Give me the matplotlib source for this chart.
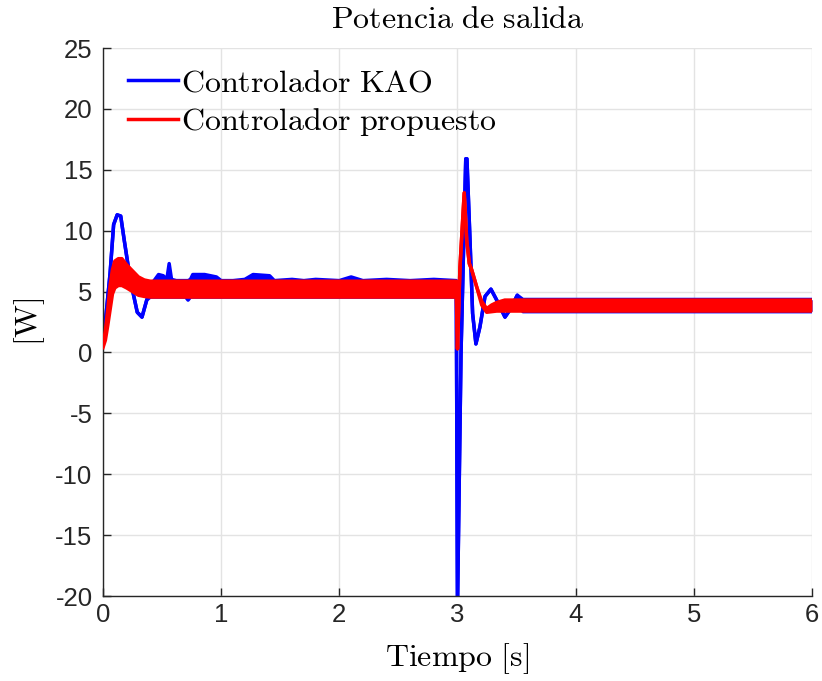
import matplotlib
matplotlib.use("Agg")
import matplotlib.pyplot as plt

plt.rcParams['mathtext.fontset'] = 'cm'
plt.rcParams['axes.unicode_minus'] = False

# ---- data ----
kao_t = [0.00, 0.03, 0.06, 0.09, 0.12, 0.15, 0.18, 0.21, 0.25, 0.29, 0.33, 0.37, 0.40,
         0.44, 0.47, 0.51, 0.54, 0.56, 0.58, 0.62, 0.70, 0.72, 0.74, 0.76, 0.86, 0.96,
         1.00, 1.10, 1.20, 1.27, 1.41, 1.45, 1.60, 1.70, 1.80, 2.00, 2.10, 2.20, 2.40,
         2.60, 2.80, 2.99, 3.00, 3.03, 3.07, 3.08, 3.106, 3.128, 3.156, 3.19, 3.233,
         3.283, 3.332, 3.402, 3.444, 3.506, 3.554, 3.60, 4.00, 5.00, 6.00]
kao_hi = [0.6, 3.5, 6.5, 10.5, 11.3, 11.2, 9.2, 7.3, 5.1, 3.3, 2.9, 4.3, 5.5,
          6.0, 6.4, 6.3, 6.0, 7.3, 6.0, 5.9, 5.9, 5.9, 6.0, 6.4, 6.4, 6.2,
          5.9, 5.9, 6.0, 6.4, 6.3, 5.9, 6.0, 5.9, 6.0, 5.9, 6.2, 5.9, 6.0,
          5.9, 6.0, 5.9, -21.0, 0.0, 15.9, 15.9, 9.2, 3.2, 0.7, 2.1, 4.6,
          5.2, 4.3, 2.9, 3.5, 4.7, 4.35, 4.35, 4.35, 4.35, 4.35]
kao_lo = [0.6, 3.5, 6.5, 10.5, 11.3, 11.2, 9.2, 7.3, 5.1, 3.3, 2.9, 4.3, 4.55,
          4.55, 4.55, 4.55, 4.55, 4.55, 4.55, 4.55, 4.55, 4.3, 4.55, 4.55, 4.55, 4.55,
          4.55, 4.55, 4.55, 4.55, 4.55, 4.55, 4.55, 4.55, 4.55, 4.55, 4.55, 4.55, 4.55,
          4.55, 4.55, 4.55, -21.0, 0.0, 15.9, 15.9, 9.2, 3.2, 0.7, 2.1, 4.6,
          5.2, 4.3, 2.9, 3.5, 4.7, 3.35, 3.35, 3.35, 3.35, 3.35]

prop_t = [0.00, 0.02, 0.04, 0.06, 0.08, 0.10, 0.13, 0.16, 0.20, 0.25, 0.30, 0.35,
          0.40, 0.50, 2.99, 3.00, 3.021, 3.057, 3.078, 3.10, 3.12, 3.162, 3.205,
          3.247, 3.29, 3.332, 3.40, 6.00]
prop_hi = [0.6, 1.8, 3.5, 5.5, 6.8, 7.5, 7.7, 7.7, 7.2, 6.7, 6.2, 5.95,
           5.85, 5.85, 5.85, 0.3, 7.0, 13.1, 9.2, 7.3, 6.8, 5.4, 4.2,
           3.6, 3.9, 4.1, 4.3, 4.3]
prop_lo = [0.4, 1.0, 2.2, 3.5, 4.8, 5.3, 5.5, 5.5, 5.3, 5.0, 4.7, 4.6,
           4.55, 4.55, 4.55, 0.3, 7.0, 13.1, 9.2, 7.3, 6.8, 5.4, 3.9,
           3.3, 3.35, 3.4, 3.4, 3.4]

x_ticks = [0, 1, 2, 3, 4, 5, 6]
y_ticks = [-20, -15, -10, -5, 0, 5, 10, 15, 20, 25]

labels = [r'$\mathrm{Controlador\ KAO}$', r'$\mathrm{Controlador\ propuesto}$']
title = r'$\mathrm{Potencia\ de\ salida}$'
xlabel = r'$\mathrm{Tiempo\ [s]}$'
ylabel = r'$\mathrm{[W]}$'

# ---- figure ----
fig = plt.figure(figsize=(8.22, 6.81), dpi=100)
ax = fig.add_axes([0.1253, 0.1248, 0.8625, 0.8047])

lw = 2.5
blue = '#0000ff'
red = '#ff0000'
ax.fill_between(kao_t, kao_lo, kao_hi, color=blue, lw=0, zorder=2)
ax.plot(kao_t, kao_hi, color=blue, lw=lw, zorder=2, label=labels[0])
ax.plot(kao_t, kao_lo, color=blue, lw=lw, zorder=2)
ax.fill_between(prop_t, prop_lo, prop_hi, color=red, lw=0, zorder=3)
ax.plot(prop_t, prop_hi, color=red, lw=lw, zorder=3, label=labels[1])
ax.plot(prop_t, prop_lo, color=red, lw=lw, zorder=3)

ax.set_xlim(0, 6)
ax.set_ylim(-20, 25)
ax.set_xticks(x_ticks)
ax.set_yticks(y_ticks)
ax.grid(True, color='#e3e3e3', lw=1)
ax.set_axisbelow(True)
for s in ['top', 'right']:
    ax.spines[s].set_visible(False)
for s in ['left', 'bottom']:
    ax.spines[s].set_linewidth(1.0)
    ax.spines[s].set_color('#262626')

ax.tick_params(direction='in', length=6, width=1, color='#262626', labelsize=18.5,
               labelcolor='#262626')
ax.tick_params(axis='y', pad=7.5)
ax.tick_params(axis='x', pad=5)
for lab in ax.get_xticklabels() + ax.get_yticklabels():
    lab.set_family(['Liberation Sans', 'DejaVu Sans'])

fig.text(0.5566, 0.972, title, fontsize=23, ha='center', va='center')
ax.set_xlabel(xlabel, fontsize=23, labelpad=10)
ax.set_ylabel(ylabel, fontsize=23, labelpad=6)

leg = ax.legend(loc='upper left', frameon=False, fontsize=23, handlelength=1.56,
                handletextpad=0.12, borderaxespad=0, borderpad=0, labelspacing=0.25,
                bbox_to_anchor=(0.035, 0.965))

fig.savefig('out.png', dpi=100)
